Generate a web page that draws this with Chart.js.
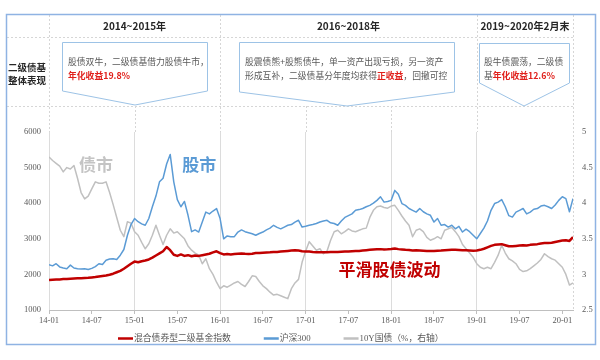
<!DOCTYPE html>
<html><head><meta charset="utf-8">
<script src="https://cdn.jsdelivr.net/npm/chart.js@4.4.1/dist/chart.umd.min.js"></script>
<style>html,body{margin:0;padding:0;background:#fff;}canvas{display:block;}</style>
</head><body>
<canvas id="c" width="600" height="360"></canvas>
<script>
// x positions in months since 2014-01
const months = [0,0.5,1,1.5,2,2.5,3,3.5,4,4.5,5,5.5,6,6.5,7,7.5,8,8.5,9,9.5,10,10.5,11,11.5,12,12.5,13,13.5,14,14.5,15,15.5,16,16.5,17,17.5,18,18.5,19,19.5,20,20.5,21,21.5,22,22.5,23,23.5,24,24.5,25,25.5,26,26.5,27,27.5,28,28.5,29,29.5,30,30.5,31,31.5,32,32.5,33,33.5,34,34.5,35,35.5,36,36.5,37,37.5,38,38.5,39,39.5,40,40.5,41,41.5,42,42.5,43,43.5,44,44.5,45,45.5,46,46.5,47,47.5,48,48.5,49,49.5,50,50.5,51,51.5,52,52.5,53,53.5,54,54.5,55,55.5,56,56.5,57,57.5,58,58.5,59,59.5,60,60.5,61,61.5,62,62.5,63,63.5,64,64.5,65,65.5,66,66.5,67,67.5,68,68.5,69,69.5,70,70.5,71,71.5,72,72.5,73,73.5];

const bondFund = [1840,1850,1855,1860,1868,1872,1880,1885,1890,1895,
1900,1905,1915,1925,1940,1955,1970,1990,2020,2060,
2100,2160,2230,2300,2360,2340,2370,2390,2420,2470,
2530,2590,2650,2770,2680,2550,2520,2560,2520,2540,
2510,2530,2520,2540,2560,2580,2620,2650,2600,2560,
2570,2560,2570,2580,2590,2580,2575,2580,2600,2600,
2610,2615,2620,2630,2630,2640,2650,2660,2670,2680,
2670,2650,2645,2640,2630,2625,2620,2620,2625,2630,
2630,2630,2635,2640,2645,2650,2655,2660,2670,2680,
2690,2700,2705,2710,2700,2705,2715,2730,2710,2700,
2690,2685,2670,2675,2670,2665,2660,2660,2655,2665,
2670,2680,2685,2690,2690,2685,2680,2675,2670,2665,
2670,2690,2720,2760,2800,2830,2840,2850,2820,2790,
2790,2800,2810,2820,2810,2830,2840,2850,2870,2880,
2880,2890,2910,2930,2950,2960,2940,3050];

const csi300 = [2270,2240,2300,2210,2180,2160,2260,2180,2160,2150,
2160,2140,2170,2220,2300,2280,2400,2430,2440,2420,
2540,2700,3100,3400,3570,3480,3420,3380,3570,3900,
4200,4600,4700,5100,5370,4600,4100,3900,4050,3660,
3200,3250,3190,3470,3750,3700,3780,3850,3570,3000,
3080,3060,3060,3190,3250,3200,3170,3140,3100,3150,
3190,3250,3300,3380,3320,3280,3330,3380,3400,3470,
3520,3330,3350,3380,3400,3430,3470,3500,3520,3450,
3430,3380,3500,3600,3650,3700,3800,3820,3850,3900,
3940,4000,4080,4180,4030,4050,4080,4360,4250,3990,
3940,3850,3800,3750,3850,3760,3700,3660,3470,3570,
3380,3400,3330,3380,3280,3350,3190,3270,3200,3100,
3000,3150,3300,3500,3800,3990,4030,4100,3900,3650,
3610,3750,3800,3850,3700,3750,3830,3850,3920,3940,
3900,3850,3950,4080,4180,4130,3760,4130];

const cgb10y = [4.65,4.60,4.56,4.52,4.44,4.50,4.48,4.53,4.35,4.15,
4.06,4.10,4.20,4.30,4.28,4.28,4.30,4.15,3.98,3.80,
3.62,3.53,3.74,3.72,3.60,3.55,3.45,3.36,3.43,3.55,
3.69,3.55,3.42,3.55,3.64,3.58,3.60,3.55,3.50,3.40,
3.34,3.30,3.27,3.15,3.22,3.08,3.00,2.89,2.80,2.84,
2.82,2.85,2.88,2.90,2.86,2.83,2.90,2.98,2.97,2.90,
2.84,2.80,2.75,2.71,2.72,2.70,2.68,2.66,2.80,2.88,
2.93,3.17,3.33,3.46,3.40,3.34,3.36,3.29,3.33,3.48,
3.60,3.62,3.57,3.60,3.64,3.61,3.60,3.62,3.64,3.65,
3.80,3.90,3.95,3.96,3.94,3.93,3.96,3.97,3.90,3.82,
3.75,3.69,3.53,3.62,3.64,3.60,3.52,3.48,3.50,3.53,
3.50,3.62,3.64,3.66,3.60,3.53,3.42,3.36,3.30,3.24,
3.15,3.10,3.08,3.10,3.08,3.17,3.27,3.41,3.30,3.22,
3.19,3.15,3.07,3.04,3.05,3.08,3.12,3.16,3.21,3.29,
3.25,3.22,3.20,3.15,3.10,3.00,2.85,2.88];

const tickLabels = ['14-01','14-07','15-01','15-07','16-01','16-07','17-01','17-07','18-01','18-07','19-01','19-07','20-01'];
const seriesNames = ['混合债券型二级基金指数','沪深300','10Y国债（%，右轴）'];
const periodTitles = ['2014~2015年','2016~2018年','2019~2020年2月末'];
const rowTitle = ['二级债基','整体表现'];
const boxTexts = [
  [[['股债双牛，二级债基借力股债牛市，','n']],[['年化收益19.8%','r']]],
  [[['股震债熊+股熊债牛，单一资产出现亏损，另一资产','n']],[['形成互补，二级债基分年度均获得','n'],['正收益','r'],['，回撤可控','n']]],
  [[['股牛债震荡，二级债','n']],[['基','n'],['年化收益12.6%','r']]]
];
const chartLabels = ['债市','股市','平滑股债波动'];

const RED='#c00000', BLUE='#5b9bd5', GRAY='#c0c0c0';
const CJK='"Noto Sans CJK SC","Noto Sans",sans-serif';
const SERIF='"Liberation Serif","Noto Sans CJK SC",serif';

const toXY = arr => months.map((m,i)=>({x:m,y:arr[i]}));

const deco = {
  id:'deco',
  beforeDraw(chart){
    const {ctx, chartArea:a, scales:{x}} = chart;
    const px = v => Math.round(x.getPixelForValue(v))+0.5;
    ctx.save();
    ctx.fillStyle='#fff'; ctx.fillRect(0,0,chart.width,chart.height);
    ctx.strokeStyle='#d6d6d6'; ctx.lineWidth=1; ctx.setLineDash([2,2]);
    [37.5,106.5].forEach(y=>{ctx.beginPath();ctx.moveTo(7,y);ctx.lineTo(px(73.5),y);ctx.stroke();});
    [0,24,60].forEach(v=>{ctx.beginPath();ctx.moveTo(px(v),15);ctx.lineTo(px(v),a.top);ctx.stroke();});
    [12,36,48].forEach(v=>{ctx.beginPath();ctx.moveTo(px(v),106);ctx.lineTo(px(v),a.top);ctx.stroke();});
    ctx.beginPath();ctx.moveTo(px(73.5),15);ctx.lineTo(px(73.5),a.bottom);ctx.stroke();
    ctx.setLineDash([]);
    // outer frame
    ctx.strokeStyle='#8fb3e3'; ctx.lineWidth=1.5; ctx.strokeRect(6.5,14.5,589,330);
    // header titles
    ctx.fillStyle='#262626'; ctx.textAlign='center'; ctx.textBaseline='middle';
    ctx.font='bold 10px '+CJK;
    const cols=[[0,24],[24,60],[60,73.5]];
    cols.forEach((c,i)=>{ctx.fillText(periodTitles[i],(x.getPixelForValue(c[0])+x.getPixelForValue(c[1]))/2,26);});
    ctx.font='bold 9.5px '+CJK;
    ctx.fillText(rowTitle[0],27,67); ctx.fillText(rowTitle[1],27,80);
    // callout boxes
    const boxes=[{l:62,r:207,t:42,b:91,tip:135,ty:105,tx:68},{l:239,r:454,t:42,b:92,tip:347,ty:106,tx:245},{l:479,r:569,t:43,b:83,tip:524,ty:106,tx:484}];
    boxes.forEach((b,i)=>{
      ctx.beginPath();ctx.moveTo(b.l+.5,b.t+.5);ctx.lineTo(b.r+.5,b.t+.5);ctx.lineTo(b.r+.5,b.b);ctx.lineTo(b.tip,b.ty);ctx.lineTo(b.l+.5,b.b);ctx.closePath();
      ctx.fillStyle='#fff';ctx.fill();ctx.strokeStyle='#9dc3e6';ctx.lineWidth=1;ctx.stroke();
      ctx.textAlign='left';
      boxTexts[i].forEach((line,j)=>{
        let cx=b.tx; const cy=62+j*13.5;
        line.forEach(seg=>{
          ctx.font=(seg[1]==='r'?'bold ':'')+'8.8px '+CJK;
          ctx.fillStyle=seg[1]==='r'?'#e0201b':'#595959';
          ctx.fillText(seg[0],cx,cy); cx+=ctx.measureText(seg[0]).width;
        });
      });
    });
    ctx.restore();
  },
  afterDatasetsDraw(chart){
    const {ctx, scales:{x,y}} = chart;
    ctx.save();
    ctx.font='bold 17px '+CJK; ctx.textAlign='left'; ctx.textBaseline='middle';
    const spots=[[4.2,5075,'#c4c4c4'],[18.7,5075,BLUE],[40.6,2124,RED]];
    spots.forEach((s,i)=>{ctx.fillStyle=s[2];ctx.fillText(chartLabels[i],x.getPixelForValue(s[0]),y.getPixelForValue(s[1]));});
    // legend
    let lx=118; const ly=338.5;
    ctx.font='8.8px '+SERIF; ctx.textBaseline='middle';
    chart.data.datasets.forEach(ds=>{
      ctx.strokeStyle=ds.borderColor; ctx.lineWidth=2.5;
      ctx.beginPath();ctx.moveTo(lx,ly);ctx.lineTo(lx+15,ly);ctx.stroke();
      ctx.fillStyle='#595959'; ctx.fillText(ds.label,lx+16,ly);
      lx+=16+ctx.measureText(ds.label).width+33;
    });
    ctx.restore();
  }
};

new Chart(document.getElementById('c'),{
  type:'line',
  data:{datasets:[
    {label:seriesNames[0],data:toXY(bondFund),borderColor:RED,borderWidth:2.5,yAxisID:'y',order:0},
    {label:seriesNames[1],data:toXY(csi300),borderColor:BLUE,borderWidth:1.5,yAxisID:'y',order:1},
    {label:seriesNames[2],data:toXY(cgb10y),borderColor:GRAY,borderWidth:1.5,yAxisID:'y1',order:2}
  ]},
  options:{
    responsive:false,animation:false,devicePixelRatio:1,
    elements:{point:{radius:0},line:{tension:0,borderJoinStyle:'round'}},
    layout:{padding:{left:6,right:5,top:132,bottom:30}},
    plugins:{legend:{display:false},tooltip:{enabled:false}},
    scales:{
      x:{type:'linear',min:0,max:73.5,
        afterFit(s){s.height=20;},
        ticks:{stepSize:6,autoSkip:false,maxRotation:0,includeBounds:false,padding:2,color:'#595959',
          font:{family:SERIF,size:8.5},callback:v=>tickLabels[v/6]},
        grid:{color:c=>(c.tick&&c.tick.value%12===0&&c.tick.value<72)?'#dcdcdc':'rgba(0,0,0,0)',tickColor:'#bfbfbf',tickLength:4},
        border:{color:'#bfbfbf'}},
      y:{position:'left',min:1000,max:6000,
        afterFit(s){s.width=43;},
        ticks:{stepSize:1000,color:'#595959',padding:0,font:{family:SERIF,size:8.5},callback:v=>String(v)},
        grid:{display:false},border:{display:false}},
      y1:{position:'right',min:2.5,max:5,
        afterFit(s){s.width=22;},
        ticks:{stepSize:0.5,color:'#595959',padding:1,font:{family:SERIF,size:8.5},callback:v=>String(v)},
        grid:{display:false},border:{display:false}}
    }
  },
  plugins:[deco]
});
</script>
</body></html>
